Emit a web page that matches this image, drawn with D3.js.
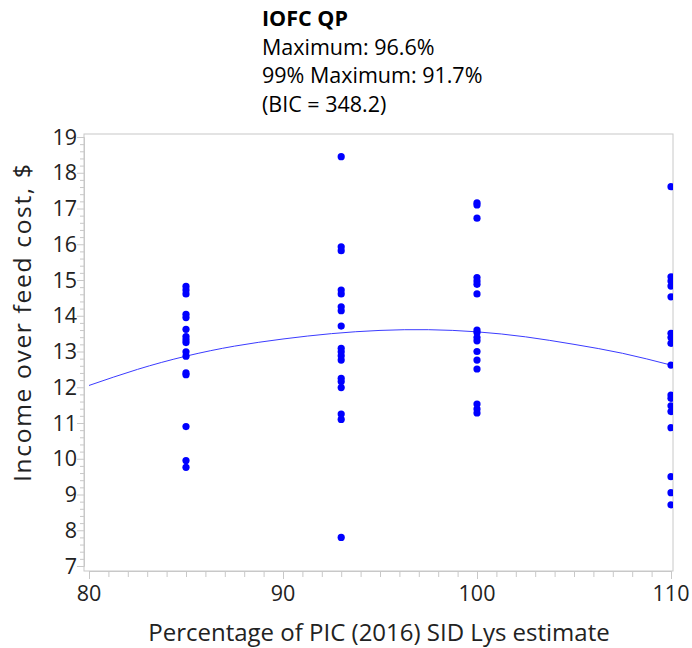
<!DOCTYPE html>
<html>
<head>
<meta charset="utf-8">
<script src="https://cdn.jsdelivr.net/npm/d3@7"></script>
<style>
  body { margin: 0; background: #fff; }
  text { font-family: "Open Sans", "Noto Sans", sans-serif; }
</style>
</head>
<body>
<div id="chart"></div>
<script>
// Title lines
var titleLines = ["IOFC QP", "Maximum: 96.6%", "99% Maximum: 91.7%", "(BIC = 348.2)"];

// Observed income over feed cost per SID Lys level
var lys85 = [14.82, 14.72, 14.61, 14.04, 13.95, 13.62, 13.42, 13.33, 13.25, 12.99, 12.87, 12.40, 12.35, 10.90, 9.95, 9.76];
var lys93 = [18.45, 15.93, 15.82, 14.72, 14.61, 14.25, 14.14, 13.71, 13.09, 12.99, 12.88, 12.76, 12.25, 12.16, 11.99, 11.25, 11.10, 7.80];
var lys100 = [17.16, 17.10, 16.73, 15.07, 14.97, 14.88, 14.61, 13.60, 13.53, 13.39, 13.30, 13.00, 12.76, 12.51, 11.53, 11.39, 11.28];
var lys110 = [17.61, 15.09, 14.97, 14.83, 14.53, 13.51, 13.39, 13.23, 12.62, 11.78, 11.69, 11.48, 11.32, 10.87, 9.50, 9.05, 8.71];

// Fitted quadratic line
var fitX = [80, 82.5, 85, 87.5, 90, 92.5, 95, 97.5, 100, 102.5, 105, 107.5, 110];
var fitY = [12.05, 12.5, 12.87, 13.15, 13.35, 13.5, 13.59, 13.61, 13.55, 13.41, 13.2, 12.95, 12.62];

var xTicks = [80, 90, 100, 110];
var yTicks = [7, 8, 9, 10, 11, 12, 13, 14, 15, 16, 17, 18, 19];

var svgWidth = 692;
var svgHeight = 648;

// plot frame
var frame = { left: 84, right: 673, top: 134, bottom: 571 };

var svg = d3.select("#chart")
  .append("svg")
  .attr("width", svgWidth)
  .attr("height", svgHeight);

var xScale = d3.scaleLinear().domain([80, 110]).range([89, 671]);
var yScale = d3.scaleLinear().domain([7, 19]).range([566, 137]);

// combine the groups into points
var points = [];
[[85, lys85], [93, lys93], [100, lys100], [110, lys110]].forEach(function(g) {
  g[1].forEach(function(v) { points.push({ x: g[0], y: v }); });
});

// frame box
svg.append("rect")
  .attr("x", frame.left)
  .attr("y", frame.top)
  .attr("width", frame.right - frame.left)
  .attr("height", frame.bottom - frame.top)
  .attr("fill", "none")
  .attr("stroke", "#c8c8c8")
  .attr("stroke-width", 1);

svg.append("clipPath").attr("id", "clip")
  .append("rect")
  .attr("x", frame.left)
  .attr("y", frame.top)
  .attr("width", frame.right - frame.left)
  .attr("height", frame.bottom - frame.top);

// axes
var bottomAxis = d3.axisBottom(xScale).tickValues(d3.range(80, 111, 1)).tickSize(6).tickFormat("");
var leftAxis = d3.axisLeft(yScale).tickValues(d3.range(7, 19.01, 0.2)).tickSize(4).tickFormat("");

var gx = svg.append("g")
  .attr("transform", `translate(0, ${frame.bottom})`)
  .call(bottomAxis);
var gy = svg.append("g")
  .attr("transform", `translate(${frame.left}, 0)`)
  .call(leftAxis);

[gx, gy].forEach(function(g) {
  g.select(".domain").attr("stroke", "#c8c8c8");
  g.selectAll(".tick line").attr("stroke", "#c8c8c8");
});

// major ticks slightly longer
gy.selectAll(".tick")
  .filter(d => Math.abs(d - Math.round(d)) < 1e-6)
  .select("line").attr("x2", -7);
gx.selectAll(".tick")
  .filter(d => d % 10 === 0)
  .select("line").attr("y2", 8);

// tick labels
svg.selectAll(".xlab")
  .data(xTicks)
  .enter()
  .append("text")
  .attr("x", d => xScale(d))
  .attr("y", 601)
  .attr("text-anchor", "middle")
  .attr("font-size", "21.5px")
  .attr("fill", "#222")
  .text(d => d);

svg.selectAll(".ylab")
  .data(yTicks)
  .enter()
  .append("text")
  .attr("x", 77)
  .attr("y", d => yScale(d))
  .attr("dy", "0.36em")
  .attr("text-anchor", "end")
  .attr("font-size", "21.5px")
  .attr("fill", "#222")
  .text(d => d);

// axis titles
svg.append("text")
  .attr("x", 379)
  .attr("y", 641)
  .attr("text-anchor", "middle")
  .attr("font-size", "24px")
  .attr("fill", "#222")
  .text("Percentage of PIC (2016) SID Lys estimate");

svg.append("text")
  .attr("transform", "translate(31, 323) rotate(-90)")
  .attr("text-anchor", "middle")
  .attr("font-size", "24.5px")
  .attr("textLength", 318)
  .attr("lengthAdjust", "spacing")
  .attr("fill", "#222")
  .text("Income over feed cost, $");

// fitted line
var line = d3.line()
  .x((d, i) => xScale(fitX[i]))
  .y(d => yScale(d))
  .curve(d3.curveNatural);

svg.append("path")
  .datum(fitY)
  .attr("d", line)
  .attr("fill", "none")
  .attr("stroke", "#3b3bff")
  .attr("stroke-width", 1)
  .attr("clip-path", "url(#clip)");

// points
svg.append("g")
  .attr("clip-path", "url(#clip)")
  .selectAll("circle")
  .data(points)
  .enter()
  .append("circle")
  .attr("cx", d => xScale(d.x))
  .attr("cy", d => yScale(d.y))
  .attr("r", 3.6)
  .attr("fill", "#0000ff");

// title block
svg.selectAll(".title")
  .data(titleLines)
  .enter()
  .append("text")
  .attr("x", 262)
  .attr("y", (d, i) => 26 + i * 28.5)
  .attr("font-size", "21.5px")
  .attr("font-weight", (d, i) => i === 0 ? "bold" : "normal")
  .attr("fill", "#000")
  .text(d => d);
</script>
</body>
</html>
